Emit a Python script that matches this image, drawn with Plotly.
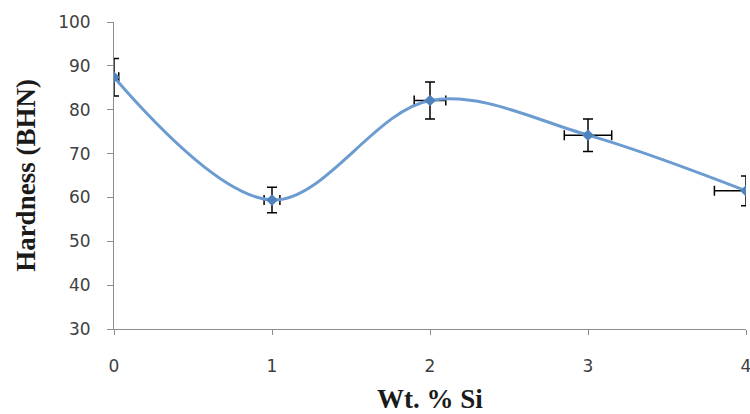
import plotly.graph_objects as go

wt_si = [0, 1, 2, 3, 4]
hardness = [87.4, 59.4, 82.1, 74.2, 61.5]
hardness_err = [4.3, 2.9, 4.2, 3.7, 3.4]
wt_err = [0.03, 0.05, 0.1, 0.15, 0.2]
y_ticks = [30, 40, 50, 60, 70, 80, 90, 100]
x_ticks = [0, 1, 2, 3, 4]

fig = go.Figure()
fig.add_trace(go.Scatter(
    x=wt_si, y=hardness,
    mode="lines+markers",
    line=dict(color="#6b9bd0", width=3, shape="spline", smoothing=1),
    marker=dict(symbol="diamond", size=9, color="#4f81bd"),
    error_y=dict(type="data", array=hardness_err, color="black", thickness=1.5, width=5),
    error_x=dict(type="data", array=wt_err, color="black", thickness=1.5, width=5),
))

axis_font = dict(family="DejaVu Sans", size=17, color="#404040")
title_font = dict(family="Liberation Serif", size=27, color="#1a1a1a")

fig.update_layout(
    width=750, height=414,
    margin=dict(l=114, r=4, t=22, b=85, autoexpand=False),
    paper_bgcolor="white", plot_bgcolor="white",
    showlegend=False,
    xaxis=dict(
        range=[0, 4], tickvals=x_ticks, showgrid=False, zeroline=False,
        showline=True, linecolor="#8c8c8c", linewidth=1,
        ticks="outside", ticklen=5, tickcolor="#8c8c8c",
        tickfont=axis_font, ticklabelstandoff=17, ticklabeloverflow="allow",
        automargin=False,
        title=dict(text="<b>Wt. % Si</b>", font=title_font, standoff=14),
    ),
    yaxis=dict(
        range=[30, 100], tickvals=y_ticks, showgrid=False, zeroline=False,
        showline=True, linecolor="#8c8c8c", linewidth=1,
        ticks="outside", ticklen=6, tickcolor="#8c8c8c",
        tickfont=axis_font, ticklabelstandoff=13,
        automargin=False,
        title=dict(text="<b>Hardness (BHN)</b>", font=title_font, standoff=14),
    ),
)

fig.write_html("out.html")
